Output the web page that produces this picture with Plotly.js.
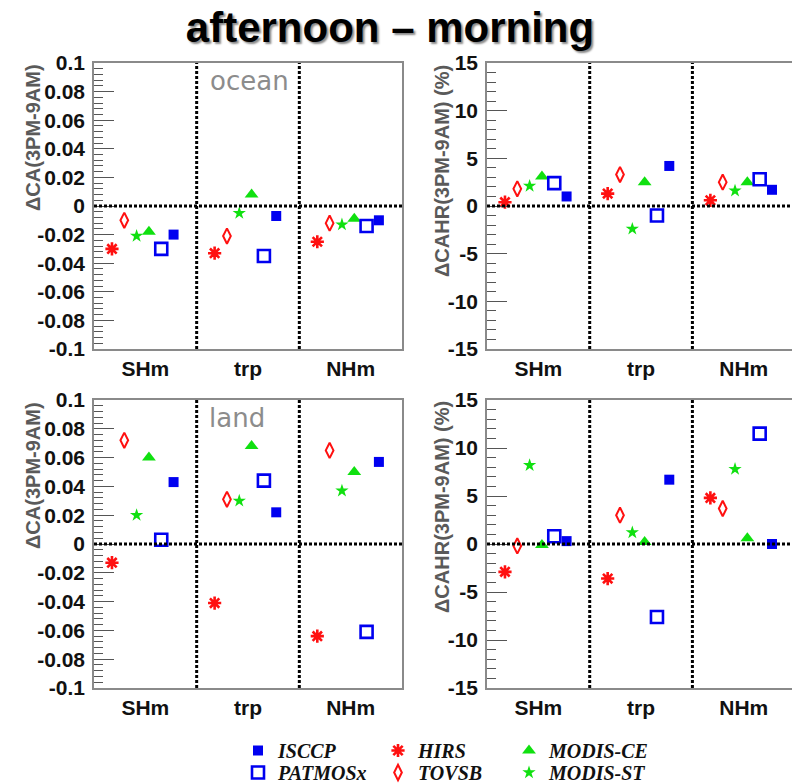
<!DOCTYPE html>
<html>
<head>
<meta charset="utf-8">
<script src="https://cdn.plot.ly/plotly-3.0.1.min.js"></script>
<style>html,body{margin:0;padding:0;background:#fff;}#chart{width:792px;height:783px;}</style>
</head>
<body>
<div id="chart"></div>
<script>
// ---------------- data ----------------
const categories = ['SHm', 'trp', 'NHm'];
const datasetNames = ['HIRS', 'TOVSB', 'MODIS-ST', 'MODIS-CE', 'PATMOSx', 'ISCCP'];

// ΔCA ocean (3PM-9AM), per category SHm, trp, NHm
const oceanCA_HIRS    = [-0.030, -0.033, -0.025];
const oceanCA_TOVSB   = [-0.010, -0.021, -0.012];
const oceanCA_MODISST = [-0.021, -0.005, -0.013];
const oceanCA_MODISCE = [-0.018,  0.008, -0.009];
const oceanCA_PATMOSx = [-0.030, -0.035, -0.014];
const oceanCA_ISCCP   = [-0.020, -0.007, -0.010];

// ΔCAHR ocean (%)
const oceanCAHR_HIRS    = [0.4,  1.3, 0.6];
const oceanCAHR_TOVSB   = [1.8,  3.3, 2.5];
const oceanCAHR_MODISST = [2.1, -2.4, 1.6];
const oceanCAHR_MODISCE = [3.1,  2.5, 2.5];
const oceanCAHR_PATMOSx = [2.4, -1.0, 2.8];
const oceanCAHR_ISCCP   = [1.0,  4.2, 1.7];

// ΔCA land
const landCA_HIRS    = [-0.013, -0.041, -0.064];
const landCA_TOVSB   = [ 0.072,  0.031,  0.065];
const landCA_MODISST = [ 0.020,  0.030,  0.037];
const landCA_MODISCE = [ 0.060,  0.068,  0.050];
const landCA_PATMOSx = [ 0.003,  0.044, -0.061];
const landCA_ISCCP   = [ 0.043,  0.022,  0.057];

// ΔCAHR land (%)
const landCAHR_HIRS    = [-2.9, -3.6,  4.8];
const landCAHR_TOVSB   = [-0.2,  3.0,  3.7];
const landCAHR_MODISST = [ 8.2,  1.2,  7.8];
const landCAHR_MODISCE = [-0.1,  0.2,  0.6];
const landCAHR_PATMOSx = [ 0.8, -7.6, 11.5];
const landCAHR_ISCCP   = [ 0.3,  6.7,  0.0];

// tick labels
const caTickVals   = [-0.1, -0.08, -0.06, -0.04, -0.02, 0, 0.02, 0.04, 0.06, 0.08, 0.1];
const caTickText   = ['-0.1', '-0.08', '-0.06', '-0.04', '-0.02', '0', '0.02', '0.04', '0.06', '0.08', '0.1'];
const cahrTickVals = [-15, -10, -5, 0, 5, 10, 15];
const cahrTickText = ['-15', '-10', '-5', '0', '5', '10', '15'];

// ---------------- styles ----------------
const BLUE = '#0000f0', RED = '#ff1010', GREEN = '#10e010';
const W = 792, H = 783;
const px = v => v / W, py = v => 1 - v / H;

// legend slot (pixel position of legend entry) per dataset
const styles = {
  'HIRS':     {symbol: 'asterisk-open',     size: 11, color: RED,   lw: 2.6, legend: 'legend3', lx: 378, ly: 750},
  'TOVSB':    {symbol: 'diamond-tall-open', size: 11, color: RED,   lw: 2,   legend: 'legend4', lx: 378, ly: 772},
  'MODIS-ST': {symbol: 'star',              size: 10, color: GREEN, lw: 0,   legend: 'legend6', lx: 509, ly: 772},
  'MODIS-CE': {symbol: 'triangle-up',       size: 12, color: GREEN, lw: 0,   legend: 'legend5', lx: 509, ly: 750},
  'PATMOSx':  {symbol: 'square-open',       size: 12, color: BLUE,  lw: 2.6, legend: 'legend2', lx: 238, ly: 772},
  'ISCCP':    {symbol: 'square',            size: 10, color: BLUE,  lw: 0,   legend: 'legend',  lx: 238, ly: 750}
};

const panels = [
  {ax: '',  series: [oceanCA_HIRS, oceanCA_TOVSB, oceanCA_MODISST, oceanCA_MODISCE, oceanCA_PATMOSx, oceanCA_ISCCP]},
  {ax: '2', series: [oceanCAHR_HIRS, oceanCAHR_TOVSB, oceanCAHR_MODISST, oceanCAHR_MODISCE, oceanCAHR_PATMOSx, oceanCAHR_ISCCP]},
  {ax: '3', series: [landCA_HIRS, landCA_TOVSB, landCA_MODISST, landCA_MODISCE, landCA_PATMOSx, landCA_ISCCP]},
  {ax: '4', series: [landCAHR_HIRS, landCAHR_TOVSB, landCAHR_MODISST, landCAHR_MODISCE, landCAHR_PATMOSx, landCAHR_ISCCP]}
];

const traces = [];
panels.forEach((p, pi) => {
  p.series.forEach((vals, k) => {
    const name = datasetNames[k];
    const s = styles[name];
    traces.push({
      type: 'scatter', mode: 'markers', name: name,
      x: vals.map((v, i) => i + 0.175 + 0.12 * k),
      y: vals,
      xaxis: 'x' + p.ax, yaxis: 'y' + p.ax,
      showlegend: pi === 0, legend: s.legend,
      cliponaxis: false,
      marker: {symbol: s.symbol, size: s.size, color: s.color, line: {width: s.lw, color: s.color}},
      hoverinfo: 'x+y+name'
    });
  });
});

const nCat = categories.length;

const axFont = {family: 'Liberation Sans, Arial, sans-serif', size: 21, weight: 'bold', color: '#111'};
function xAxis(dom, anchor, rmax) {
  return {domain: dom, anchor: anchor, range: [0, rmax], showgrid: false, zeroline: false,
    showline: true, linecolor: '#8a8a8a', linewidth: 1.5, mirror: true, ticks: '',
    tickmode: 'array', tickvals: categories.map((c, i) => i + 0.5), ticktext: categories,
    tickfont: axFont, ticklabelstandoff: 0, fixedrange: true};
}
function yAxis(dom, anchor, isCA, mirror) {
  return {domain: dom, anchor: anchor, range: isCA ? [-0.1, 0.1] : [-15, 15],
    showgrid: false, zeroline: false, showline: true, linecolor: '#8a8a8a', linewidth: 1.5, mirror: mirror,
    tickmode: 'array', tickvals: isCA ? caTickVals : cahrTickVals, ticktext: isCA ? caTickText : cahrTickText,
    ticks: 'inside', ticklen: 20, tickwidth: 1, tickcolor: '#555',
    minor: {ticks: 'inside', ticklen: 9, tickwidth: 1, tickcolor: '#555', dtick: isCA ? 0.004 : 1, tick0: 0},
    tickfont: axFont, ticklabelstandoff: 3, fixedrange: true};
}

const xL = [px(94), px(402)], xR = [px(487), 1];
const yT = [py(349), py(63)], yB = [py(688), py(400)];
const rightMax = (W - 487) / 102.7;

const shapes = [];
panels.forEach(p => {
  for (let b = 1; b < nCat; b++) {
    shapes.push({type: 'line', xref: 'x' + p.ax, yref: 'y' + p.ax + ' domain', x0: b, x1: b, y0: 0, y1: 1,
      line: {color: '#000', width: 3, dash: '3px,2px'}});
  }
  shapes.push({type: 'line', xref: 'x' + p.ax + ' domain', yref: 'y' + p.ax, x0: 0, x1: 1, y0: 0, y1: 0,
    line: {color: '#000', width: 3, dash: '3px,2px'}});
});

const titleFont = {family: 'Liberation Sans, Arial, sans-serif', size: 20, weight: 'bold', color: '#5a5a5a'};
function ann(text, x, y, font, angle) {
  return {text: text, x: px(x), y: py(y), xref: 'paper', yref: 'paper', xanchor: 'center', yanchor: 'middle',
    textangle: angle || 0, showarrow: false, font: font};
}
const labelFont = {family: 'DejaVu Sans, sans-serif', size: 26, color: '#8c8c8c'};
const annotations = [
  ann('ΔCA(3PM-9AM)', 33, 138, titleFont, -90),
  ann('ΔCAHR(3PM-9AM) (%)', 442, 171, titleFont, -90),
  ann('ΔCA(3PM-9AM)', 33, 476, titleFont, -90),
  ann('ΔCAHR(3PM-9AM) (%)', 442, 507, titleFont, -90),
  ann('ocean', 250, 81, labelFont),
  ann('land', 237, 418, labelFont)
];

const legFont = {family: 'Liberation Serif, Times New Roman, serif', size: 20, weight: 'bold', style: 'italic', color: '#111'};
const layout = {
  width: W, height: H, margin: {l: 0, r: 0, t: 0, b: 0, autoexpand: false},
  paper_bgcolor: '#fff', plot_bgcolor: '#fff', showlegend: true,
  title: {text: 'afternoon – morning', x: px(390), xanchor: 'center', y: py(27), yanchor: 'middle',
    xref: 'paper', yref: 'paper',
    font: {family: 'Liberation Sans, Arial, sans-serif', size: 42, weight: 'bold', color: '#000', shadow: '2px 2px 2px #8a8a8a'}},
  xaxis: xAxis(xL, 'y', nCat), yaxis: yAxis(yT, 'x', true, true),
  xaxis2: xAxis(xR, 'y2', rightMax), yaxis2: yAxis(yT, 'x2', false, false),
  xaxis3: xAxis(xL, 'y3', nCat), yaxis3: yAxis(yB, 'x3', true, true),
  xaxis4: xAxis(xR, 'y4', rightMax), yaxis4: yAxis(yB, 'x4', false, false),
  shapes: shapes, annotations: annotations
};
datasetNames.forEach(name => {
  const s = styles[name];
  layout[s.legend] = {x: px(s.lx), y: py(s.ly - 19), xanchor: 'left', yanchor: 'top', orientation: 'v',
    bgcolor: 'rgba(0,0,0,0)', borderwidth: 0, font: legFont, itemclick: false, itemdoubleclick: false};
});

Plotly.newPlot('chart', traces, layout, {displayModeBar: false});
</script>
</body>
</html>
